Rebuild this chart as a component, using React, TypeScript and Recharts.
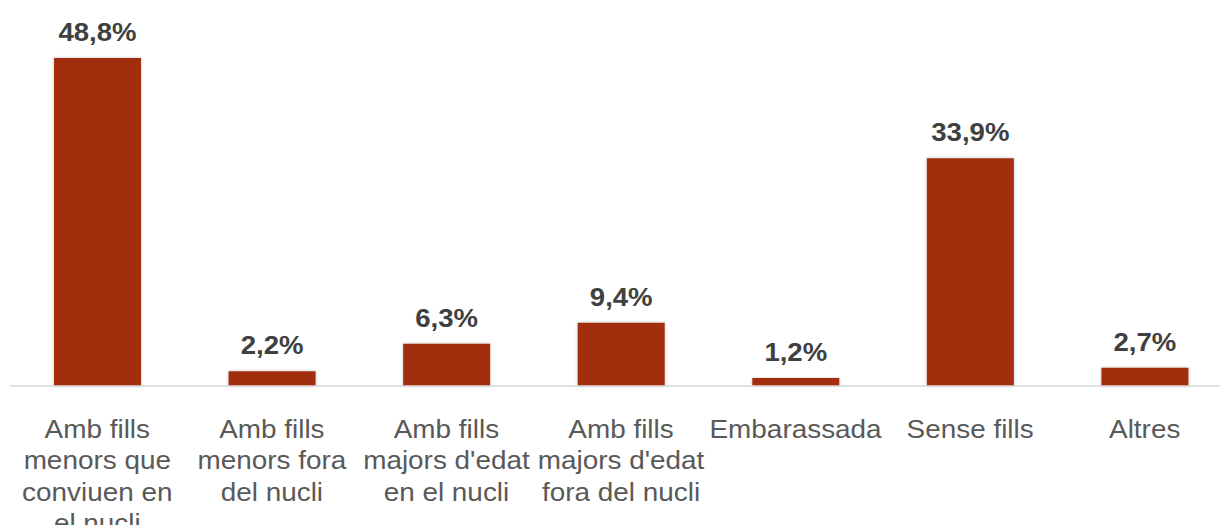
import React from "react";
import { BarChart, Bar, XAxis, YAxis, LabelList } from "recharts";

// categories (line breaks as in the original axis labels)
const categories = [
  "Amb fills\nmenors que\nconviuen en\nel nucli",
  "Amb fills\nmenors fora\ndel nucli",
  "Amb fills\nmajors d'edat\nen el nucli",
  "Amb fills\nmajors d'edat\nfora del nucli",
  "Embarassada",
  "Sense fills",
  "Altres",
];

const percentages = [48.8, 2.2, 6.3, 9.4, 1.2, 33.9, 2.7];

const chartData = categories.map((name, i) => ({
  name,
  value: percentages[i],
}));

const FONT = "'Liberation Sans', Arial, Helvetica, sans-serif";

// multi-line category tick, slightly stretched like the original
const CategoryTick = (props: any) => {
  const { x, y, payload } = props;
  const lines = String(payload.value).split("\n");
  return (
    <g transform={`translate(${x},${y}) scale(1.09,1)`}>
      <text textAnchor="middle" fill="#595959" fontSize={25.6} fontFamily={FONT}>
        {lines.map((line, i) => (
          <tspan key={i} x={0} y={44 + i * 31.3}>
            {line}
          </tspan>
        ))}
      </text>
    </g>
  );
};

const formatPct = (v: any) => `${Number(v).toFixed(1).replace(".", ",")}%`;

const ValueLabel = (props: any) => {
  const { x, y, width, value } = props;
  const cx = Number(x) + Number(width) / 2;
  const by = Number(y) - 17;
  return (
    <g transform={`translate(${cx},${by}) scale(1.06,1)`}>
      <text
        x={0}
        y={0}
        textAnchor="middle"
        fill="#404040"
        fontSize={26}
        fontWeight="bold"
        fontFamily={FONT}
      >
        {formatPct(value)}
      </text>
    </g>
  );
};

export default function App() {
  return (
    <div
      style={{
        position: "absolute",
        left: 0,
        top: 0,
        width: 1220,
        height: 525,
        overflow: "hidden",
        background: "#fff",
      }}
    >
      <BarChart
        width={1232}
        height={525}
        data={chartData}
        margin={{ top: 50, right: 0, left: 10, bottom: 0 }}
        barCategoryGap="50%"
      >
        <defs>
          <filter id="barShadow" x="-10%" y="-10%" width="120%" height="120%">
            <feDropShadow dx="0" dy="0" stdDeviation="1.5" floodColor="#000" floodOpacity="0.25" />
          </filter>
        </defs>
        <XAxis
          dataKey="name"
          interval={0}
          height={139}
          tickLine={false}
          axisLine={{ stroke: "#d9d9d9", strokeWidth: 1.5 }}
          tick={<CategoryTick />}
        />
        <YAxis hide domain={[0, 50]} />
        <Bar
          dataKey="value"
          fill="#A32F11"
          barSize={87}
          filter="url(#barShadow)"
          isAnimationActive={false}
        >
          <LabelList dataKey="value" content={<ValueLabel />} />
        </Bar>
      </BarChart>
    </div>
  );
}
